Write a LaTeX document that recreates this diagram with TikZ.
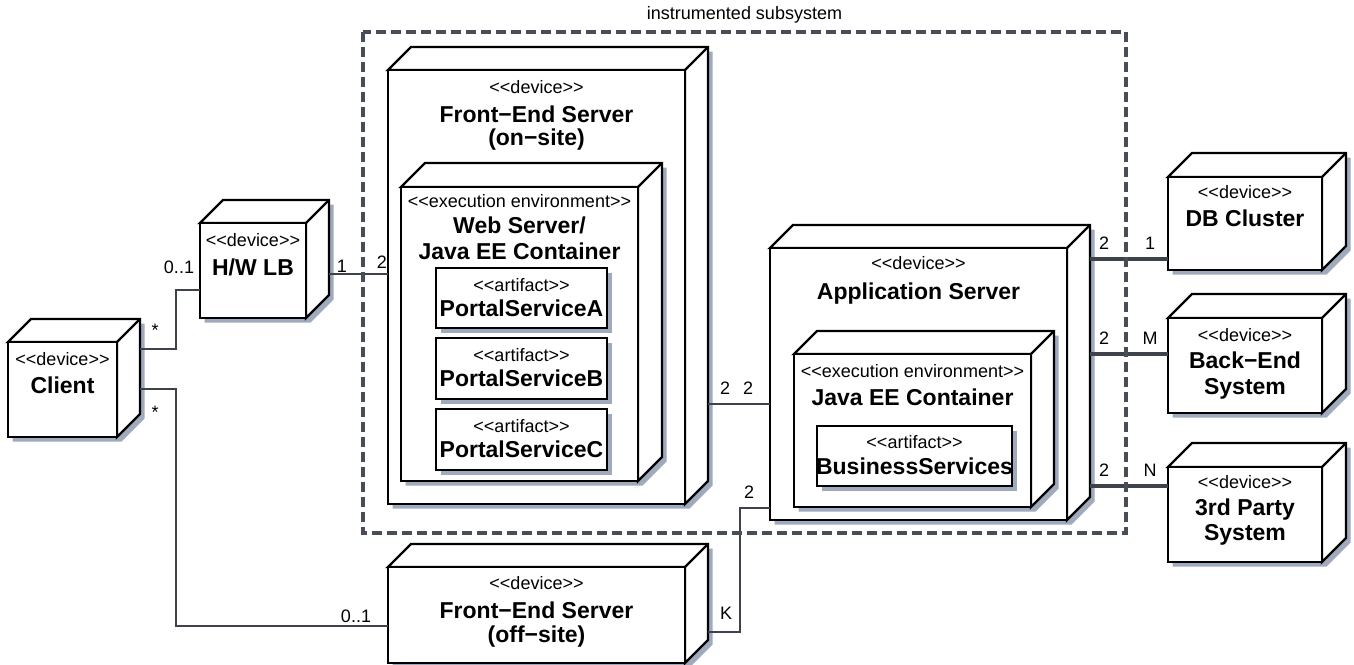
\documentclass[tikz,border=0pt]{standalone}
\usepackage{fontspec}
\setmainfont{Liberation Sans}
\usetikzlibrary{calc}
\definecolor{shadowc}{HTML}{9FAABD}
\definecolor{connc}{HTML}{3E434B}
\definecolor{dashc}{HTML}{484E58}
\newcommand\stfont{\fontsize{18}{20}\selectfont}
\newcommand\nmfont{\bfseries\fontsize{23}{25}\selectfont}
\newcommand\st[1]{<\kern0pt<#1>\kern0pt>}
\tikzset{
  nodeline/.style={draw=black, line width=2.4pt, line join=miter},
  frontface/.style={nodeline, fill=white, inner sep=0pt, outer sep=0pt, rectangle},
  stereo/.style={font=\stfont, inner sep=0pt, anchor=base},
  nm/.style={font=\nmfont, inner sep=0pt, anchor=base},
  lbl/.style={font=\stfont, inner sep=0pt, anchor=center},
  conn/.style={draw=connc, line width=1.8pt},
  connthick/.style={draw=connc, line width=3.4pt},
  boundary/.style={draw=dashc, line width=3.4pt, dash pattern=on 10pt off 5pt},
}
% name, x1, y1, x2, y2, depth
\newcommand\devbox[6]{%
  \fill[shadowc] (#2+4.5,#3+4.5) -- (#2+#6+4.5,#3-#6+4.5) -- (#4+#6+4.5,#3-#6+4.5)
     -- (#4+#6+4.5,#5-#6+4.5) -- (#4+4.5,#5+4.5) -- (#2+4.5,#5+4.5) -- cycle;
  \draw[nodeline, fill=white] (#2,#3) -- (#2+#6,#3-#6) -- (#4+#6,#3-#6)
     -- (#4+#6,#5-#6) -- (#4,#5) -- (#4,#3) -- cycle;
  \draw[nodeline] (#4,#3) -- (#4+#6,#3-#6);
  \node[frontface, minimum width={(#4-#2)*1pt}, minimum height={(#5-#3)*1pt},
        anchor=north west] (#1) at (#2,#3) {};
  \coordinate (#1-b) at (#4+#6,#3-#6);
}
% name, x1, y1, x2, y2
\newcommand\artbox[5]{%
  \fill[shadowc] (#2+4.5,#3+4.5) rectangle (#4+4.5,#5+4.5);
  \node[frontface, minimum width={(#4-#2)*1pt}, minimum height={(#5-#3)*1pt},
        anchor=north west] (#1) at (#2,#3) {};
}
\begin{document}
\begin{tikzpicture}[x=1pt, y=-1pt]
\useasboundingbox (0,0) rectangle (1354,664);
\fill[white] (0,0) rectangle (1354,664);

% Client
\devbox{client}{8}{342}{117}{437}{23}
\node[stereo] (client-s) at (62.5,365.5) {\st{device}};
\node[nm] (client-n) at (62.5,393) {Client};

% H/W LB
\devbox{hwlb}{200}{223}{306}{318}{23}
\node[stereo] (hwlb-s) at (253,246.5) {\st{device}};
\node[nm] (hwlb-n) at (253,275) {H/W LB};

% Front-End Server on-site
\devbox{fe}{388}{70}{685}{504}{23}
\node[stereo] (fe-s) at (536.5,93.5) {\st{device}};
\node[nm] (fe-n1) at (536.5,122) {Front−End Server};
\node[nm] (fe-n2) at (536.5,145) {(on−site)};

% Web server exec env
\devbox{web}{401}{187}{638}{481}{24}
\node[stereo] (web-s) at (519.5,207.5) {\st{execution environment}};
\node[nm] (web-n1) at (519.5,233) {Web Server/};
\node[nm] (web-n2) at (519.5,259) {Java EE Container};

% Artifacts
\artbox{psa}{436}{268}{607}{328}
\node[stereo] (psa-s) at (521.5,291.5) {\st{artifact}};
\node[nm] (psa-n) at (521.5,316) {PortalServiceA};
\artbox{psb}{436}{338}{607}{399}
\node[stereo] (psb-s) at (521.5,361.5) {\st{artifact}};
\node[nm] (psb-n) at (521.5,386) {PortalServiceB};
\artbox{psc}{436}{409}{607}{470}
\node[stereo] (psc-s) at (521.5,432.5) {\st{artifact}};
\node[nm] (psc-n) at (521.5,457) {PortalServiceC};

% Application Server
\devbox{app}{770}{248}{1067}{520}{23}
\node[stereo] (app-s) at (918.5,269.5) {\st{device}};
\node[nm] (app-n) at (918.5,299) {Application Server};

\devbox{jee}{794}{354}{1031}{507}{23}
\node[stereo] (jee-s) at (912.5,377.5) {\st{execution environment}};
\node[nm] (jee-n) at (912.5,405) {Java EE Container};

\artbox{bs}{817}{426}{1012}{486}
\node[stereo] (bs-s) at (914.5,448.5) {\st{artifact}};
\node[nm] (bs-n) at (914.5,474) {BusinessServices};

% Front-End Server off-site
\devbox{off}{388}{567}{685}{663}{23}
\node[stereo] (off-s) at (536.5,589.5) {\st{device}};
\node[nm] (off-n1) at (536.5,618) {Front−End Server};
\node[nm] (off-n2) at (536.5,642) {(off−site)};

% Right side
\devbox{db}{1168}{177}{1322}{270}{24}
\node[stereo] (db-s) at (1245,198.5) {\st{device}};
\node[nm] (db-n) at (1245,226) {DB Cluster};

\devbox{be}{1168}{318}{1322}{413}{24}
\node[stereo] (be-s) at (1245,341.5) {\st{device}};
\node[nm] (be-n1) at (1245,368) {Back−End};
\node[nm] (be-n2) at (1245,394) {System};

\devbox{tp}{1168}{467}{1322}{562}{24}
\node[stereo] (tp-s) at (1245,488.5) {\st{device}};
\node[nm] (tp-n1) at (1245,515) {3rd Party};
\node[nm] (tp-n2) at (1245,540) {System};

% Connectors
\draw[conn] (client-b |- 0,349) -| (176,290) -- (hwlb.west |- 0,290);
\draw[conn] (client-b |- 0,389) -| (176,626) -- (off.west |- 0,626);
\draw[conn, line width=2.2pt] (hwlb-b |- 0,274) -- (fe.west |- 0,274);
\draw[conn] (fe-b |- 0,404) -- (app.west |- 0,404);
\draw[conn] (off-b |- 0,632) -| (740,508) -- (app.west |- 0,508);
\draw[connthick] (app-b |- 0,259) -- (db.west |- 0,259);
\draw[connthick] (app-b |- 0,354) -- (be.west |- 0,354);
\draw[connthick] (app-b |- 0,486) -- (tp.west |- 0,486);

% Boundary
\draw[boundary] (363,32) rectangle (1126,533);
\node[font=\stfont, inner sep=0pt] (inst) at (744.5,15) {instrumented subsystem};

% Multiplicities
\node[lbl] (m1) at (179,267) {0..1};
\node[lbl] (m2) at (155,330) {*};
\node[lbl] (m3) at (155,412) {*};
\node[lbl] (m4) at (342,266) {1};
\node[lbl] (m5) at (382,262) {2};
\node[lbl] (m6) at (725,388) {2};
\node[lbl] (m7) at (748,388) {2};
\node[lbl] (m8) at (749,492) {2};
\node[lbl] (m9) at (726,613) {K};
\node[lbl] (m10) at (356,616) {0..1};
\node[lbl] (m11) at (1104,243) {2};
\node[lbl] (m12) at (1104,338) {2};
\node[lbl] (m13) at (1104,470) {2};
\node[lbl] (m14) at (1150,243) {1};
\node[lbl] (m15) at (1150,338) {M};
\node[lbl] (m16) at (1150,470) {N};
\end{tikzpicture}
\end{document}
